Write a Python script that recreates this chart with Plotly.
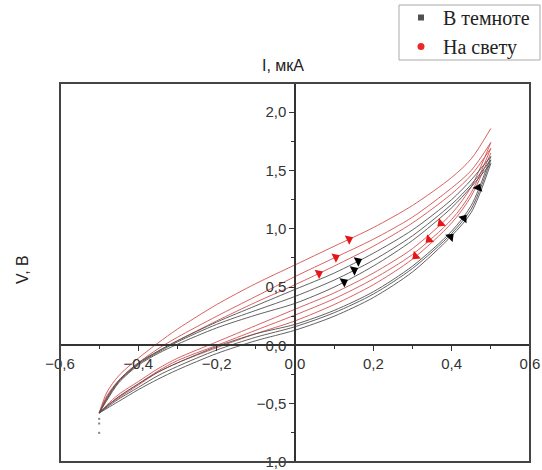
import numpy as np
import plotly.graph_objects as go

# ---------------- data ----------------
X = [-0.5, -0.48, -0.45, -0.4, -0.35, -0.3, -0.2, -0.1, 0.0, 0.1, 0.2, 0.3, 0.4, 0.45, 0.5]

# light ("На свету") – upper and lower branches of three loops
red_up1 = [-0.58, -0.40, -0.26, -0.11, 0.02, 0.14, 0.35, 0.53, 0.69, 0.85, 1.01, 1.20, 1.44, 1.60, 1.86]
red_up2 = [-0.58, -0.43, -0.30, -0.15, -0.03, 0.07, 0.25, 0.42, 0.59, 0.75, 0.91, 1.10, 1.35, 1.50, 1.74]
red_up3 = [-0.58, -0.44, -0.31, -0.16, -0.05, 0.04, 0.21, 0.37, 0.52, 0.68, 0.85, 1.05, 1.30, 1.46, 1.69]
red_lo1 = [-0.58, -0.51, -0.42, -0.31, -0.20, -0.11, 0.03, 0.17, 0.31, 0.45, 0.62, 0.83, 1.13, 1.36, 1.74]
red_lo2 = [-0.58, -0.52, -0.44, -0.33, -0.22, -0.13, 0.00, 0.13, 0.26, 0.40, 0.57, 0.78, 1.08, 1.31, 1.69]
red_lo3 = [-0.58, -0.52, -0.45, -0.34, -0.23, -0.15, -0.02, 0.10, 0.21, 0.35, 0.52, 0.74, 1.05, 1.28, 1.65]

# dark ("В темноте") – upper and lower branches of three loops
blk_up1 = [-0.58, -0.45, -0.30, -0.15, -0.05, 0.04, 0.20, 0.34, 0.48, 0.62, 0.79, 0.99, 1.25, 1.42, 1.62]
blk_up2 = [-0.58, -0.46, -0.31, -0.16, -0.06, 0.03, 0.18, 0.30, 0.42, 0.56, 0.73, 0.94, 1.21, 1.38, 1.59]
blk_up3 = [-0.58, -0.47, -0.32, -0.17, -0.07, 0.01, 0.15, 0.26, 0.36, 0.50, 0.68, 0.90, 1.18, 1.36, 1.56]
blk_lo1 = [-0.58, -0.52, -0.44, -0.33, -0.23, -0.15, -0.01, 0.10, 0.18, 0.30, 0.46, 0.68, 0.98, 1.20, 1.62]
blk_lo2 = [-0.58, -0.53, -0.46, -0.36, -0.26, -0.18, -0.04, 0.07, 0.16, 0.28, 0.44, 0.66, 0.96, 1.17, 1.59]
blk_lo3 = [-0.58, -0.54, -0.48, -0.38, -0.29, -0.21, -0.07, 0.04, 0.13, 0.25, 0.41, 0.63, 0.94, 1.14, 1.56]

# stray dark points at the left end
blk_tail_x = [-0.5, -0.5, -0.5]
blk_tail_v = [-0.63, -0.67, -0.75]

# direction arrows: position, curve they sit on, direction (+1 right, -1 left)
arrow_red_x = [0.061, 0.104, 0.138, 0.308, 0.342, 0.372]
arrow_red_curve = ["red_up3", "red_up2", "red_up1", "red_lo3", "red_lo2", "red_lo1"]
arrow_red_dir = [1, 1, 1, -1, -1, -1]
arrow_blk_x = [0.125, 0.151, 0.161, 0.397, 0.431, 0.468]
arrow_blk_curve = ["blk_up3", "blk_up2", "blk_up1", "blk_lo3", "blk_lo2", "blk_lo1"]
arrow_blk_dir = [1, 1, 1, 1, 1, 1]

x_ticks = [-0.6, -0.4, -0.2, 0.0, 0.2, 0.4, 0.6]
y_ticks = [-1.0, -0.5, 0.0, 0.5, 1.0, 1.5, 2.0]
X_RANGE = [-0.6, 0.6]
Y_RANGE = [-1.0, 2.25]

curves = dict(red_up1=red_up1, red_up2=red_up2, red_up3=red_up3,
              red_lo1=red_lo1, red_lo2=red_lo2, red_lo3=red_lo3,
              blk_up1=blk_up1, blk_up2=blk_up2, blk_up3=blk_up3,
              blk_lo1=blk_lo1, blk_lo2=blk_lo2, blk_lo3=blk_lo3)

# ---------------- styling ----------------
RED = "rgb(210,80,80)"
DARK = "rgb(80,80,80)"
W, H = 542, 470
ML, MR, MT, MB = 60, 12, 83, 8
PW, PH = W - ML - MR, H - MT - MB
px_per_x = PW / (X_RANGE[1] - X_RANGE[0])
px_per_y = PH / (Y_RANGE[1] - Y_RANGE[0])


def px_x(p):
    return (p - ML) / PW


def px_y(p):
    return (H - MB - p) / PH


fig = go.Figure()

for name, vals in curves.items():
    color = RED if name.startswith("red") else DARK
    fig.add_trace(go.Scatter(x=X, y=vals, mode="lines",
                             line=dict(color=color, width=0.9, shape="spline", smoothing=0.8),
                             showlegend=False, hoverinfo="skip", cliponaxis=False))

fig.add_trace(go.Scatter(x=blk_tail_x, y=blk_tail_v, mode="markers",
                         marker=dict(color="rgb(130,130,130)", size=2, symbol="square"),
                         showlegend=False, hoverinfo="skip"))


def arrow_trace(xs, cnames, dirs, color):
    ys, angs = [], []
    for xa, cn, d in zip(xs, cnames, dirs):
        vals = np.array(curves[cn])
        xv = np.array(X)
        ya = float(np.interp(xa, xv, vals))
        dx = 0.01
        dy = float(np.interp(xa + dx, xv, vals) - np.interp(xa - dx, xv, vals)) / 2
        ang = np.degrees(np.arctan2(dy * px_per_y, dx * px_per_x))
        a = -ang if d > 0 else 180 - ang
        ys.append(ya)
        angs.append(a)
    return go.Scatter(x=xs, y=ys, mode="markers",
                      marker=dict(symbol="triangle-right", size=9, color=color,
                                  angle=angs, line=dict(width=0)),
                      showlegend=False, hoverinfo="skip")


fig.add_trace(arrow_trace(arrow_red_x, arrow_red_curve, arrow_red_dir, "rgb(230,20,20)"))
fig.add_trace(arrow_trace(arrow_blk_x, arrow_blk_curve, arrow_blk_dir, "black"))

# legend entries
fig.add_trace(go.Scatter(x=[None], y=[None], mode="markers", name="В темноте",
                         marker=dict(symbol="square", size=6, color="rgb(80,80,80)")))
fig.add_trace(go.Scatter(x=[None], y=[None], mode="markers", name="На свету",
                         marker=dict(symbol="circle", size=7, color="rgb(235,40,40)")))

y0_pos = (0 - Y_RANGE[0]) / (Y_RANGE[1] - Y_RANGE[0])
x0_pos = (0 - X_RANGE[0]) / (X_RANGE[1] - X_RANGE[0])

axis_font = dict(family="Liberation Sans, Arial, sans-serif", size=15, color="#333")

fig.update_layout(
    width=W, height=H,
    margin=dict(l=ML, r=MR, t=MT, b=MB, autoexpand=False),
    paper_bgcolor="white", plot_bgcolor="white",
    separators=", ",
    xaxis=dict(range=X_RANGE, anchor="free", position=y0_pos, automargin=False,
               tickvals=x_ticks, tickformat=".1f", ticks="outside", ticklen=5,
               tickcolor="#333", tickwidth=1.2, ticklabeloverflow="allow",
               minor=dict(dtick=0.1, ticks="outside", ticklen=3, tickcolor="#333"),
               showline=True, linecolor="#333", linewidth=1.5,
               showgrid=False, zeroline=False, tickfont=axis_font),
    yaxis=dict(range=Y_RANGE, anchor="free", position=x0_pos, automargin=False,
               tickvals=y_ticks, tickformat=".1f", ticks="outside", ticklen=5,
               tickcolor="#333", tickwidth=1.2, ticklabeloverflow="allow",
               minor=dict(dtick=0.25, ticks="outside", ticklen=3, tickcolor="#333"),
               showline=True, linecolor="#333", linewidth=1.5,
               showgrid=False, zeroline=False, tickfont=axis_font),
    legend=dict(x=px_x(399), y=px_y(-2), xanchor="left", yanchor="top",
                borderwidth=0, bgcolor="rgba(0,0,0,0)",
                font=dict(family="Liberation Serif, Times New Roman, serif", size=20, color="#222"),
                itemwidth=34, tracegroupgap=0),
    shapes=[dict(type="rect", xref="paper", yref="paper", x0=0, x1=1, y0=0, y1=1,
                 line=dict(color="#444", width=2), layer="above"),
            dict(type="rect", xref="paper", yref="paper",
                 x0=px_x(399), x1=px_x(540), y0=px_y(60), y1=px_y(5),
                 line=dict(color="#aaa", width=1), fillcolor="white", layer="below")],
    annotations=[
        dict(text="I, мкА", xref="paper", yref="paper", x=px_x(283), y=px_y(66),
             showarrow=False, xanchor="center", yanchor="middle",
             font=dict(family="Liberation Sans, Arial, sans-serif", size=16, color="#222")),
        dict(text="V, В", xref="paper", yref="paper", x=px_x(22), y=px_y(270),
             showarrow=False, xanchor="center", yanchor="middle", textangle=-90,
             font=dict(family="Liberation Sans, Arial, sans-serif", size=16, color="#222")),
    ],
)

fig.write_html("out.html")
